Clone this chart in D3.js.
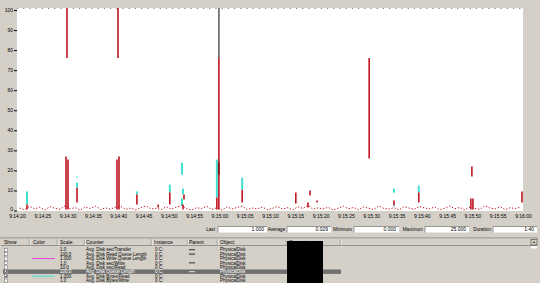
<!DOCTYPE html>
<html><head><meta charset="utf-8">
<script src="https://cdn.jsdelivr.net/npm/d3@7"></script>
<style>
html,body{margin:0;padding:0;background:#d4d0c8;overflow:hidden}
svg{display:block;font-family:"Liberation Sans",Arial,sans-serif}
</style></head>
<body>
<svg id="c" width="540" height="283"></svg>
<script>
// ---------- data ----------
const yTickValues = [0,10,20,30,40,50,60,70,80,90,100];
const xTickValues = [0,5,10,15,20,25,30,35,40,45,50,55,60,65,70,75,80,85,90,95,100];
const xTickLabels = ["9:14:20","9:14:25","9:14:30","9:14:35","9:14:40","9:14:45","9:14:50","9:14:55","9:15:00","9:15:05","9:15:10","9:15:15","9:15:20","9:15:25","9:15:30","9:15:35","9:15:40","9:15:45","9:15:50","9:15:55","9:16:00"];
// spikes: [sample time, low value, high value]
const redSpikes = [
  [1.98,0.5,3.0],
  [9.68,0.5,26.9],[10.08,0.5,25.4],[9.88,76.1,101],
  [11.86,4.0,11.4],
  [19.76,0.5,25.4],[20.16,0.5,26.9],[19.96,76.1,101],
  [23.7,3.0,8.0],
  [27.9,1.5,3.0],
  [30.2,3.0,9.0],
  [33.0,5.5,8.0],[32.8,0.5,3.0],
  [39.9,0.5,76.1],[39.5,0.5,6.5],
  [44.5,4.0,10.4],
  [55.1,3.5,9.0],
  [57.9,7.5,10.0],[57.5,1.5,4.0],[59.3,4.0,5.0],
  [69.6,25.9,76.1],
  [74.5,2.5,5.0],
  [79.4,4.0,9.0],
  [89.9,16.9,21.9],[89.7,0.5,6.0],[90.1,0.5,6.0],
  [99.8,4.0,9.5]
];
const darkRedSpikes = [[39.9,17.9,23.9]];
const cyanSpikes = [
  [1.98,3.0,9.5],
  [11.86,16.4,16.9],[11.86,11.4,13.9],
  [23.7,8.0,9.5],
  [30.2,9.0,12.9],
  [32.6,17.9,23.9],[32.8,8.0,10.9],[32.6,2.5,6.0],
  [39.5,6.5,25.4],
  [44.5,10.4,16.4],
  [74.5,8.9,10.9],[74.5,2.0,2.5],
  [79.4,9.0,12.4]
];
const graySpikes = [[39.9,76.1,101]];
const baselineNoise = [1.2,0.4,2.1,0.8,1.6,0.3,1.9,1.1,0.6,2.4,0.9,1.4,0.2,1.8,1.0,2.2,0.5,1.3,0.7,1.7,2.0,0.6,1.2,0.3,1.5,2.3,0.8,1.1,0.4,1.9,0.7,1.6,2.5,0.9,0.3,1.4,1.0,2.1,0.6,1.3,0.2,1.8,0.8,1.5,2.2,0.5,1.2,0.9,1.7,0.4,1.1,2.0,0.7,1.4,0.3,1.9,1.0,2.6,0.6,1.3,0.8,1.6,0.2,1.2,2.1,0.9,1.5,0.4,1.8,1.1,0.5,2.3,1.0,0.7,1.4,0.3,1.9,1.2,0.6,2.0,1.3,0.8,1.7,0.4,1.1,2.2,0.9,1.5,0.3,1.6,1.0,0.6,2.4,1.2,0.8,1.8,0.5,1.4,0.9,1.7];
const statLabels = ["Last","Average","Minimum","Maximum","Duration"];
const statValues = ["1.000","0.029","0.000","25.000","1:40"];
const headers = ["Show","Color","Scale","Counter","Instance","Parent","Object","Computer"];
const rowChecked = [false,false,false,false,false,true,true,false];
const rowColors = [null,null,"#e040e0",null,null,null,"#40e0d0",null];
const rowScales = ["1.0","100.0","1.000","1.0","10.0","100.0","1.000","1.0"];
const rowCounters = ["Avg. Disk sec/Transfer","Avg. Disk Read Queue Length","Avg. Disk Write Queue Length","Avg. Disk sec/Write","Avg. Disk sec/Read","Avg. Disk Queue Length","Avg. Disk Bytes/Read","Avg. Disk Bytes/Write"];
const rowInstances = ["0 C:","0 C:","0 C:","0 C:","0 C:","0 C:","0 C:","0 C:"];
const rowParents = ["---","---","","---","","---","",""];
const rowObjects = ["PhysicalDisk","PhysicalDisk","PhysicalDisk","PhysicalDisk","PhysicalDisk","PhysicalDisk","PhysicalDisk","PhysicalDisk"];
const selectedRow = 5;

// ---------- layout ----------
const svg = d3.select("#c");
const W = 540, H = 283;
const plot = {l:17, r:523, t:8, b:211};
const x = d3.scaleLinear().domain([0,100]).range([plot.l, plot.r]);
const y = d3.scaleLinear().domain([0,100]).range([210.5, 10]);
const FS = 5;

svg.append("rect").attr("width",W).attr("height",H).attr("fill","#d4d0c8");
svg.append("rect").attr("x",plot.l).attr("y",plot.t).attr("width",plot.r-plot.l).attr("height",plot.b-plot.t).attr("fill","#fff");

svg.append("clipPath").attr("id","pc").append("rect")
  .attr("x",plot.l).attr("y",plot.t).attr("width",plot.r-plot.l).attr("height",plot.b-plot.t);

// top dotted grid
svg.append("line").attr("x1",plot.l).attr("x2",plot.r).attr("y1",plot.t+0.5).attr("y2",plot.t+0.5)
  .attr("stroke","#808080").attr("stroke-width",1).attr("stroke-dasharray","1.2,5");

const g = svg.append("g").attr("clip-path","url(#pc)");

// baseline noise
const noiseLine = d3.line().x((d,i)=>x(i+0.5)).y(d=>y(d));
g.append("path").datum(baselineNoise).attr("d",noiseLine).attr("fill","none")
  .attr("stroke","#c0141e").attr("stroke-width",1).attr("stroke-dasharray","1.3,1.8");

function spikes(data, color, w){
  g.append("g").selectAll("line").data(data).join("line")
    .attr("x1",d=>x(d[0])).attr("x2",d=>x(d[0]))
    .attr("y1",d=>y(d[1])).attr("y2",d=>y(d[2]))
    .attr("stroke",color).attr("stroke-width",w);
}
spikes(cyanSpikes,"#40e0d0",2);
spikes(redSpikes,"#be1622",1.6);
spikes(darkRedSpikes,"#8a1a1e",2);
spikes(graySpikes,"#5e6262",1.6);

// y axis
const ya = svg.append("g").attr("transform",`translate(${plot.l},0)`)
  .call(d3.axisLeft(y).tickValues(yTickValues).tickSize(3).tickPadding(1));
ya.select(".domain").remove();
ya.selectAll("line").attr("stroke","#000");
ya.selectAll("text").attr("font-size",FS).attr("fill","#000").attr("dy","0.3em");
ya.selectAll(".tick").filter(d=>d===0).select("text").attr("dy","0.05em");

// x axis
const xa = svg.append("g").attr("transform",`translate(0,${plot.b})`)
  .call(d3.axisBottom(x).tickValues(xTickValues).tickSize(0).tickPadding(3)
    .tickFormat((d,i)=>xTickLabels[i]));
xa.select(".domain").remove();
xa.selectAll("text").attr("font-size",FS).attr("fill","#000");

// stats row
const statLabelRight = [215,285,352,423,491];
const statBoxes = [[218,267],[287,331],[354,399],[425,469],[493,537]];
const sy = 226.5, sh = 6;
statLabels.forEach((s,i)=>{
  svg.append("text").attr("x",statLabelRight[i]).attr("y",sy+4.6).attr("text-anchor","end")
    .attr("font-size",FS-0.3).text(s);
  const [a,b] = statBoxes[i];
  svg.append("rect").attr("x",a).attr("y",sy).attr("width",b-a).attr("height",sh).attr("fill","#fff");
  svg.append("path").attr("d",`M${a},${sy+sh}V${sy}H${b}`).attr("fill","none").attr("stroke","#808080").attr("stroke-width",0.8);
  svg.append("text").attr("x",b-3).attr("y",sy+4.6).attr("text-anchor","end").attr("font-size",FS).text(statValues[i]);
});

// legend header
const headX = [4,33,60,86,154,189,220,289];
const divX = [30,58,85,152,188,218,287,341];
svg.append("line").attr("x1",0).attr("x2",538).attr("y1",238).attr("y2",238).attr("stroke","#707070").attr("stroke-width",0.8);
svg.append("rect").attr("x",1).attr("y",238.5).attr("width",536).attr("height",7).attr("fill","#d4d0c8");
svg.append("line").attr("x1",1).attr("x2",537).attr("y1",245.5).attr("y2",245.5).attr("stroke","#808080").attr("stroke-width",0.8);
divX.forEach(d=>{
  svg.append("line").attr("x1",d).attr("x2",d).attr("y1",239).attr("y2",245.5).attr("stroke","#fff").attr("stroke-width",0.8);
  svg.append("line").attr("x1",d-0.8).attr("x2",d-0.8).attr("y1",239).attr("y2",245.5).attr("stroke","#808080").attr("stroke-width",0.6);
});
headers.forEach((h,i)=>{
  svg.append("text").attr("x",headX[i]).attr("y",243.7).attr("font-size",FS).text(h);
});
// small scroll button
svg.append("rect").attr("x",531).attr("y",239.5).attr("width",6).attr("height",5.5).attr("fill","#d4d0c8").attr("stroke","#404040").attr("stroke-width",0.6);
svg.append("line").attr("x1",532.8).attr("x2",535.2).attr("y1",242.3).attr("y2",242.3).attr("stroke","#000").attr("stroke-width",0.8);
svg.append("rect").attr("x",531).attr("y",246).attr("width",6).attr("height",2.5).attr("fill","#fff");

// legend rows
const rowTop = 247.5, rowH = 4.4;
svg.append("rect").attr("x",3).attr("y",rowTop+selectedRow*rowH).attr("width",338).attr("height",rowH).attr("fill","#6f6f6f");
rowCounters.forEach((c,i)=>{
  const ty = rowTop + i*rowH;
  const col = i===selectedRow ? "#fff" : "#000";
  svg.append("rect").attr("x",4.5).attr("y",ty+0.7).attr("width",3.2).attr("height",3.2)
    .attr("fill","#fff").attr("stroke","#606060").attr("stroke-width",0.5);
  if(rowChecked[i]){
    svg.append("path").attr("d",`M5.2,${ty+2.3}L6,${ty+3.3}L7.2,${ty+1.2}`).attr("fill","none").attr("stroke","#000").attr("stroke-width",0.7);
  }
  if(rowColors[i]){
    svg.append("line").attr("x1",32).attr("x2",55).attr("y1",ty+2.3).attr("y2",ty+2.3).attr("stroke",rowColors[i]).attr("stroke-width",1);
  }
  const base = ty+3.9;
  svg.append("text").attr("x",60).attr("y",base).attr("font-size",FS-0.5).attr("fill",col).text(rowScales[i]);
  svg.append("text").attr("x",86).attr("y",base).attr("font-size",FS-0.5).attr("fill",col).text(c);
  svg.append("text").attr("x",155).attr("y",base).attr("font-size",FS-0.5).attr("fill",col).text(rowInstances[i]);
  if(rowParents[i]) svg.append("line").attr("x1",189).attr("x2",195).attr("y1",ty+2.2).attr("y2",ty+2.2).attr("stroke",col).attr("stroke-width",0.8);
  svg.append("text").attr("x",220).attr("y",base).attr("font-size",FS-0.5).attr("fill",col).text(rowObjects[i]);
});

// redaction box
svg.append("rect").attr("x",287).attr("y",241).attr("width",36).attr("height",42).attr("fill","#000");
</script>
</body></html>
